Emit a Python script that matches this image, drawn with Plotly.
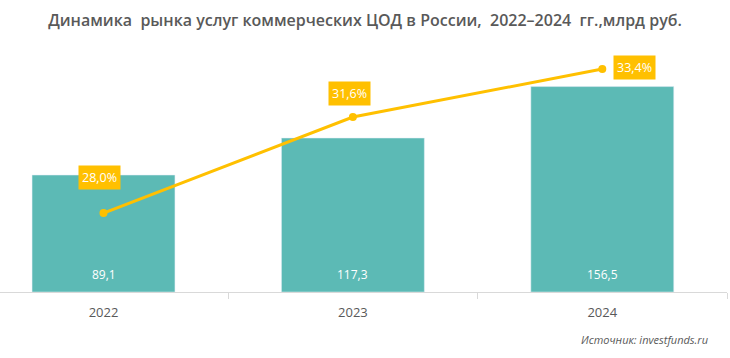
import plotly.graph_objects as go

years = ["2022", "2023", "2024"]
market = [89.1, 117.3, 156.5]
share = [28.0, 31.6, 33.4]
market_labels = ["89,1", "117,3", "156,5"]
share_labels = ["28,0%", "31,6%", "33,4%"]

BAR = "#5CBAB5"
GOLD = "#FFC000"
GREY = "#595959"
FONT = "Open Sans"

fig = go.Figure()
fig.add_trace(go.Bar(x=years, y=market, marker_color=BAR, width=0.573,
                     hoverinfo="skip", showlegend=False))
fig.add_trace(go.Scatter(x=years, y=share, yaxis="y2", mode="lines+markers",
                         line=dict(color=GOLD, width=3),
                         marker=dict(color=GOLD, size=8),
                         hoverinfo="skip", showlegend=False))

annotations = []
for i, (v, t) in enumerate(zip(market, market_labels)):
    annotations.append(dict(x=i, y=0, xref="x", yref="y", text=t, showarrow=False,
                            yanchor="bottom", yshift=7,
                            font=dict(family=FONT, size=12, color="white")))
offsets = [(-4, -36), (-3, -24), (32, -2)]
for i, ((v, t), (ax, ay)) in enumerate(zip(zip(share, share_labels), offsets)):
    annotations.append(dict(x=i, y=v, xref="x", yref="y2", text=t, showarrow=True,
                            arrowcolor="rgba(0,0,0,0)", ax=ax, ay=ay,
                            bgcolor=GOLD, borderpad=3,
                            font=dict(family=FONT, size=12.5, color="white")))
annotations.append(dict(x=1.0, y=-0.19, xref="paper", yref="paper",
                        text="<i>Источник: investfunds.ru</i>",
                        showarrow=False, xanchor="right", yanchor="middle", xshift=-17,
                        font=dict(family=FONT, size=11, color=GREY)))

fig.update_layout(
    width=730, height=358,
    margin=dict(l=0, r=3, t=40, b=66),
    paper_bgcolor="white", plot_bgcolor="white",
    title=dict(text="Динамика  рынка услуг коммерческих ЦОД в России,  2022–2024  гг.,млрд руб.",
               x=0.5, xanchor="center", y=0.944, yanchor="middle",
               font=dict(family=FONT, size=16, color=GREY, weight=600)),
    xaxis=dict(type="category", range=[-0.415, 2.5], tickson="boundaries",
               ticks="outside", ticklen=6, tickcolor="#D9D9D9",
               showline=True, linecolor="#D9D9D9", linewidth=1, ticklabelstandoff=8,
               showgrid=False, tickfont=dict(family=FONT, size=13, color=GREY)),
    yaxis=dict(range=[0, 192], visible=False, showgrid=False),
    yaxis2=dict(range=[25.04, 34.49], overlaying="y", visible=False, showgrid=False),
    annotations=annotations,
)
fig.write_html("out.html", config={"displayModeBar": False},
               post_script="document.body.style.margin='0';")
